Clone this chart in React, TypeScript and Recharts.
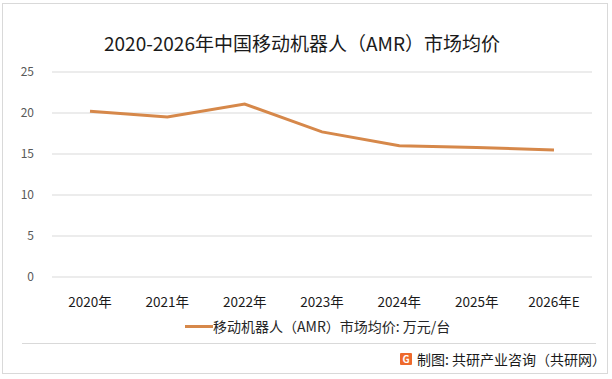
import { LineChart, Line, XAxis, YAxis, CartesianGrid } from "recharts";

const years = ["2020年", "2021年", "2022年", "2023年", "2024年", "2025年", "2026年E"];
const avgPrice = [20.2, 19.5, 21.1, 17.7, 16.0, 15.8, 15.5];
const yTicks = [0, 5, 10, 15, 20, 25];

const title = "2020-2026年中国移动机器人（AMR）市场均价";
const seriesName = "移动机器人（AMR）市场均价: 万元/台";
const sourceText = "制图: 共研产业咨询（共研网）";

const FONT = '"Noto Sans CJK SC", "Noto Sans", sans-serif';
const LINE_COLOR = "#D6884A";

export default function App() {
  const data = years.map((y, i) => ({ year: y, price: avgPrice[i] }));

  return (
    <div
      style={{
        position: "absolute",
        left: 0,
        top: 0,
        width: 612,
        height: 379,
        background: "#fff",
        fontFamily: FONT,
        overflow: "hidden",
      }}
    >
      <div
        style={{
          position: "absolute",
          left: 2,
          top: 3,
          width: 604,
          height: 369,
          border: "1px solid #d9d9d9",
        }}
      />
      <div
        style={{
          position: "absolute",
          left: 0,
          width: 604,
          top: 30,
          textAlign: "center",
          fontSize: 19,
          color: "#1a1a1a",
          lineHeight: "26px",
          whiteSpace: "nowrap",
        }}
      >
        {title}
      </div>

      <LineChart
        width={612}
        height={379}
        data={data}
        margin={{ top: 72, right: 20, left: 0, bottom: 72 }}
        style={{ position: "absolute", left: 0, top: 0 }}
      >
        <CartesianGrid vertical={false} stroke="#d9d9d9" />
        <XAxis
          dataKey="year"
          axisLine={false}
          tickLine={false}
          height={30}
          tickMargin={14}
          padding={{ left: 38, right: 38 }}
          tick={{ fill: "#1a1a1a", fontSize: 13.5, fontFamily: FONT }}
          interval={0}
        />
        <YAxis
          domain={[0, 25]}
          ticks={yTicks}
          width={52}
          axisLine={false}
          tickLine={false}
          tickMargin={12}
          tick={{ fill: "#595959", fontSize: 12, fontFamily: FONT }}
        />
        <Line
          type="linear"
          dataKey="price"
          stroke={LINE_COLOR}
          strokeWidth={3}
          dot={false}
          isAnimationActive={false}
        />
      </LineChart>

      <div
        style={{
          position: "absolute",
          left: 185,
          top: 315,
          display: "flex",
          alignItems: "center",
          fontSize: 14,
          color: "#262626",
          lineHeight: "22px",
          whiteSpace: "nowrap",
        }}
      >
        <span style={{ display: "inline-block", width: 28, height: 3, background: LINE_COLOR }} />
        <span>{seriesName}</span>
      </div>

      <div
        style={{
          position: "absolute",
          left: 22,
          top: 343,
          width: 574,
          height: 1,
          background: "#d9d9d9",
        }}
      />

      <div
        style={{
          position: "absolute",
          left: 400,
          top: 349,
          display: "flex",
          alignItems: "center",
          fontSize: 14,
          color: "#1a1a1a",
          lineHeight: "20px",
          whiteSpace: "nowrap",
        }}
      >
        <span
          style={{
            display: "inline-block",
            width: 12,
            height: 12,
            background: "#EE6A2C",
            color: "#fff",
            fontSize: 10,
            fontWeight: 700,
            lineHeight: "12px",
            textAlign: "center",
            marginRight: 5,
            borderRadius: 1,
          }}
        >
          G
        </span>
        <span>{sourceText}</span>
      </div>
    </div>
  );
}
